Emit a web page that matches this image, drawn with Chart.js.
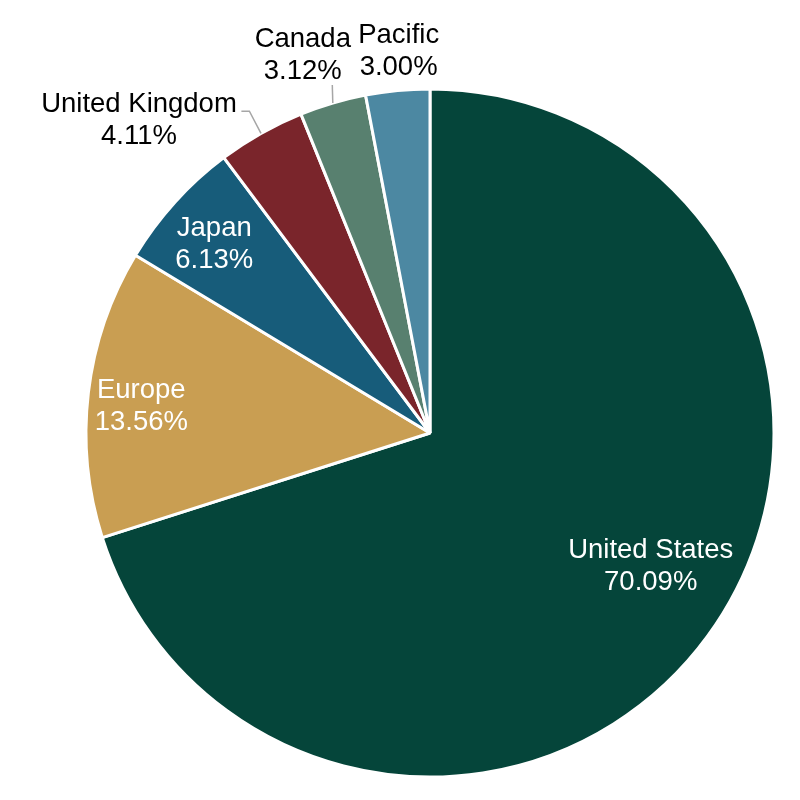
<!DOCTYPE html>
<html>
<head>
<meta charset="utf-8">
<script src="https://cdn.jsdelivr.net/npm/chart.js@4.4.1/dist/chart.umd.min.js"></script>
<style>
  html, body { margin: 0; padding: 0; background: #ffffff; }
  #wrap { width: 800px; height: 800px; }
</style>
</head>
<body>
<div id="wrap"><canvas id="c" width="800" height="800"></canvas></div>
<script>
// ---- data ----
const categories = ["United States", "Europe", "Japan", "United Kingdom", "Canada", "Pacific"];
const shares = [70.09, 13.56, 6.13, 4.11, 3.12, 3.00];
const shareLabels = ["70.09%", "13.56%", "6.13%", "4.11%", "3.12%", "3.00%"];
const sliceColors = ["#05453a", "#c99e52", "#175c7a", "#7a252b", "#58806f", "#4c88a2"];

// ---- label placement (style/layout) ----
const labelPlacement = [
  { inside: true, r: 0.762, dAngle: -3.5, color: "#ffffff" },
  { inside: true, r: 0.841, dAngle: -2.96, color: "#ffffff" },
  { inside: true, r: 0.818, dAngle: -2.2, color: "#ffffff" },
  { inside: false, dx: -122, dy: -5, leader: [[-11.6, -22.2], [-19.6, -22.2]], color: "#000000" },
  { inside: false, dx: -30, dy: -40, leader: [[-0.5, -18]], color: "#000000" },
  { inside: false, dx: 1, dy: -32, leader: null, color: "#000000" }
];

const FONT = "27.5px 'Liberation Sans', Arial, Helvetica, sans-serif";
const LINE_HALF = 16;

const sliceLabelPlugin = {
  id: 'sliceLabels',
  afterDatasetsDraw(chart) {
    const ctx = chart.ctx;
    const meta = chart.getDatasetMeta(0);
    ctx.save();
    ctx.font = FONT;
    ctx.textAlign = 'center';
    ctx.textBaseline = 'alphabetic';
    meta.data.forEach((arc, i) => {
      const p = arc.getProps(['x', 'y', 'startAngle', 'endAngle', 'outerRadius'], true);
      const mid = (p.startAngle + p.endAngle) / 2;
      const place = labelPlacement[i];
      let lx, ly;
      if (place.inside) {
        const a = mid + place.dAngle * Math.PI / 180;
        const r = p.outerRadius * place.r;
        lx = p.x + Math.cos(a) * r;
        ly = p.y + Math.sin(a) * r;
      } else {
        const ax = p.x + Math.cos(mid) * p.outerRadius;
        const ay = p.y + Math.sin(mid) * p.outerRadius;
        lx = ax + place.dx;
        ly = ay + place.dy;
        if (place.leader) {
          ctx.beginPath();
          ctx.strokeStyle = '#a6a6a6';
          ctx.lineWidth = 1.5;
          ctx.moveTo(ax, ay);
          place.leader.forEach(pt => ctx.lineTo(ax + pt[0], ay + pt[1]));
          ctx.stroke();
        }
      }
      ctx.fillStyle = place.color;
      ctx.fillText(categories[i], lx, ly - LINE_HALF);
      ctx.fillText(shareLabels[i], lx, ly + LINE_HALF);
    });
    ctx.restore();
  }
};

new Chart(document.getElementById('c'), {
  type: 'pie',
  data: {
    labels: categories,
    datasets: [{
      data: shares,
      backgroundColor: sliceColors,
      borderColor: '#ffffff',
      borderWidth: 3,
      hoverBorderWidth: 3,
      hoverOffset: 0
    }]
  },
  options: {
    responsive: false,
    animation: false,
    radius: 344,
    layout: { padding: { left: 60, right: 0, top: 66, bottom: 0 } },
    plugins: {
      legend: { display: false },
      tooltip: { enabled: false }
    },
    events: []
  },
  plugins: [sliceLabelPlugin]
});
</script>
</body>
</html>
